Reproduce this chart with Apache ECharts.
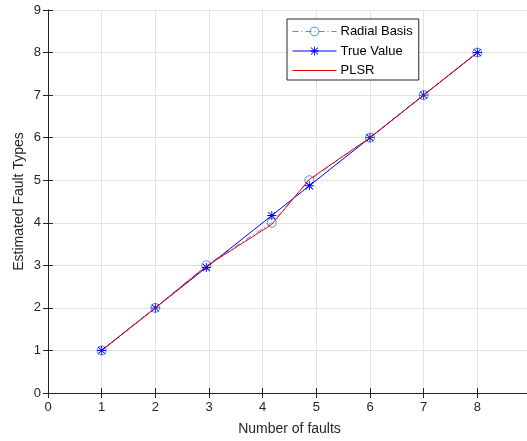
<!DOCTYPE html>
<html>
<head>
<meta charset="utf-8">
<script src="https://cdn.jsdelivr.net/npm/echarts@6/dist/echarts.min.js"></script>
<style>
  html, body { margin: 0; padding: 0; background: #fff; }
  #chart { width: 527px; height: 441px; }
</style>
</head>
<body>
<div id="chart"></div>
<script>
// x positions (number of faults)
const faults = [1, 2, 2.95, 4.17, 4.87, 6, 7, 8];
const radialBasis = [1, 2, 3.0, 4.0, 5.0, 6, 7, 8];
const trueValue = [1, 2, 2.95, 4.17, 4.87, 6, 7, 8];
const plsr = [1, 2, 2.98, 3.96, 5.02, 6, 7, 8];
const xTicks = [0, 1, 2, 3, 4, 5, 6, 7, 8, 9];
const yTicks = [0, 1, 2, 3, 4, 5, 6, 7, 8, 9];

const toPairs = (ys) => faults.map((x, i) => [x, ys[i]]);

// matlab style '*' marker
const asterisk =
  'path://M9 0L11 0L11 20L9 20Z M0 9L20 9L20 11L0 11Z ' +
  'M2.7 1.3L18.7 17.3L17.3 18.7L1.3 2.7Z M17.3 1.3L18.7 2.7L2.7 18.7L1.3 17.3Z';

const axisColor = '#262626';
const rbColor = '#3d9be0';
const tvColor = '#0000ff';
const plsrColor = '#ff0000';
const font = "'Liberation Sans', Arial, sans-serif";

const chart = echarts.init(document.getElementById('chart'));

const baseX = {
  type: 'value',
  min: 0,
  max: 9,
  interval: 1,
  axisLine: { lineStyle: { color: axisColor, width: 1 } },
  axisTick: { inside: true, length: 5, lineStyle: { color: axisColor } },
};
const baseY = {
  type: 'value',
  min: 0,
  max: 9,
  interval: 1,
  axisLine: { show: true, lineStyle: { color: axisColor, width: 1 } },
  axisTick: { show: true, inside: true, length: 5, lineStyle: { color: axisColor } },
};

chart.setOption({
  animation: false,
  backgroundColor: '#fff',
  textStyle: { fontFamily: font },
  grid: { left: 48, top: 10, width: 483, height: 383, containLabel: false, outerBoundsMode: 'none' },
  legend: {
    orient: 'vertical',
    left: 287,
    top: 19,
    padding: [6, 6, 3, 5],
    itemWidth: 44,
    itemHeight: 11,
    itemGap: 6.5,
    borderColor: axisColor,
    borderWidth: 1,
    backgroundColor: '#fff',
    itemStyle: { borderWidth: 1 },
    textStyle: { fontFamily: font, fontSize: 13, color: '#000', padding: [0, 0, 0, -1] },
    data: [
      { name: 'Radial Basis', lineStyle: { color: rbColor, width: 1, type: [6, 3, 1, 3] } },
      { name: 'True Value', lineStyle: { color: tvColor, width: 1, type: 'solid' } },
      { name: 'PLSR', itemStyle: { opacity: 0 }, lineStyle: { color: plsrColor, width: 1, type: 'solid' } },
    ],
  },
  xAxis: [
    {
      ...baseX,
      position: 'bottom',
      name: 'Number of faults',
      nameLocation: 'middle',
      nameGap: 29,
      nameMoveOverlap: false,
      nameTextStyle: { fontFamily: font, fontSize: 14, color: axisColor },
      axisLabel: {
        fontFamily: font,
        fontSize: 13,
        color: axisColor,
        margin: 8,
        formatter: (v) => (xTicks.indexOf(v) >= 0 && v < 9 ? String(v) : ''),
      },
      splitLine: { show: true, lineStyle: { color: '#e3e3e3', width: 1 } },
    },
    {
      ...baseX,
      position: 'top',
      axisLabel: { show: false },
      splitLine: { show: false },
    },
  ],
  yAxis: [
    {
      ...baseY,
      position: 'left',
      name: 'Estimated Fault Types',
      nameLocation: 'middle',
      nameGap: 22,
      nameMoveOverlap: false,
      nameTextStyle: { fontFamily: font, fontSize: 14, color: axisColor },
      axisLabel: {
        fontFamily: font,
        fontSize: 13,
        color: axisColor,
        margin: 7,
        formatter: (v) => (yTicks.indexOf(v) >= 0 ? String(v) : ''),
      },
      splitLine: { show: true, lineStyle: { color: '#e3e3e3', width: 1 } },
    },
    {
      ...baseY,
      position: 'right',
      axisLabel: { show: false },
      splitLine: { show: false },
    },
  ],
  series: [
    {
      name: 'Radial Basis',
      type: 'line',
      data: toPairs(radialBasis),
      symbol: 'circle',
      symbolSize: 9,
      showAllSymbol: true,
      color: rbColor,
      lineStyle: { color: rbColor, width: 1, type: [6, 3, 1, 3] },
      itemStyle: { color: 'rgba(255,255,255,0)', borderColor: rbColor, borderWidth: 1 },
      z: 2,
    },
    {
      name: 'True Value',
      type: 'line',
      data: toPairs(trueValue),
      symbol: asterisk,
      symbolSize: 9,
      showAllSymbol: true,
      color: tvColor,
      lineStyle: { color: tvColor, width: 1 },
      itemStyle: { color: tvColor },
      z: 3,
    },
    {
      name: 'PLSR',
      type: 'line',
      data: toPairs(plsr),
      showSymbol: false,
      symbol: 'none',
      color: plsrColor,
      lineStyle: { color: plsrColor, width: 1 },
      z: 4,
    },
  ],
});

window.addEventListener('resize', () => chart.resize());
</script>
</body>
</html>
